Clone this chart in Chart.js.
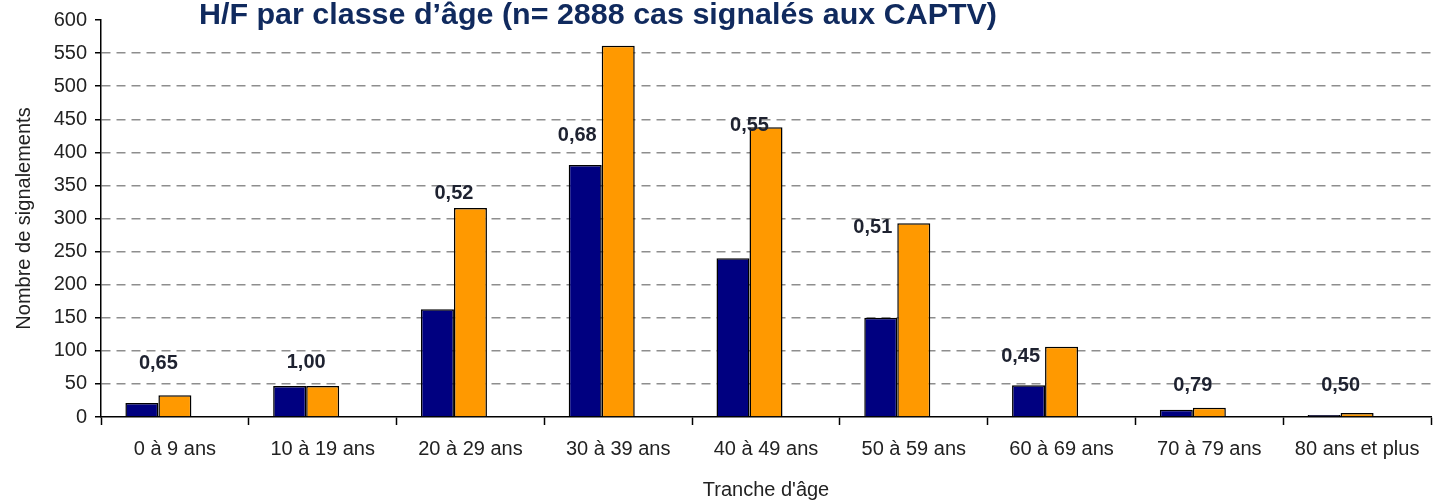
<!DOCTYPE html>
<html lang="fr">
<head>
  <meta charset="UTF-8">
  <title>H/F par classe d'âge</title>
  <script src="https://cdn.jsdelivr.net/npm/chart.js"></script>
  <style>
    body {
      margin: 0;
      background-color: #ffffff;
    }
    .wrap {
      position: relative;
      width: 1433px;
      height: 502px;
    }
  </style>
</head>
<body>
  <div class="wrap">
    <canvas id="ageChart"></canvas>
  </div>

  <script>
    // Données
    const tranches = ['0 à 9 ans', '10 à 19 ans', '20 à 29 ans', '30 à 39 ans', '40 à 49 ans',
                      '50 à 59 ans', '60 à 69 ans', '70 à 79 ans', '80 ans et plus'];
    const hommes = [21, 47, 163, 381, 240, 150, 48, 11, 3];
    const femmes = [33, 47, 316, 561, 438, 293, 106, 14, 6];
    const ratioHF = [0.65, 1.00, 0.52, 0.68, 0.55, 0.51, 0.45, 0.79, 0.50];
    // hauteur (en nombre de signalements) où se trouve l'étiquette du ratio
    const ratioLabelAt = [81, 83, 338, 426, 440, 287, 91, 48, 48];
    const yTicks = [0, 50, 100, 150, 200, 250, 300, 350, 400, 450, 500, 550, 600];

    const titre = 'H/F par classe d\u2019âge (n= 2888 cas signalés aux CAPTV)';
    const police = '"Liberation Sans", Arial, sans-serif';

    // titre dessiné par-dessus la zone du graphique
    const titlePlugin = {
      id: 'titre',
      afterDraw(chart) {
        const ctx = chart.ctx;
        ctx.save();
        ctx.font = 'bold 29px "Liberation Sans Narrow", ' + police;
        const w = ctx.measureText(titre).width;
        ctx.translate(199, 24);
        ctx.scale(798 / w, 1);
        ctx.fillStyle = '#102a5e';
        ctx.textBaseline = 'alphabetic';
        ctx.textAlign = 'left';
        ctx.fillText(titre, 0, 0);
        ctx.restore();
      }
    };

    // étiquettes du ratio H/F
    const ratioPlugin = {
      id: 'ratio',
      afterDatasetsDraw(chart) {
        const ctx = chart.ctx;
        const y = chart.scales.y;
        const barsH = chart.getDatasetMeta(0).data;
        ctx.save();
        ctx.font = 'bold 20px ' + police;
        ctx.fillStyle = '#1e2230';
        ctx.textBaseline = 'middle';
        ratioHF.forEach((r, i) => {
          const bar = barsH[i];
          const edge = bar.x + bar.width / 2;
          const txt = r.toFixed(2).replace('.', ',');
          const py = y.getPixelForValue(ratioLabelAt[i]);
          if (ratioLabelAt[i] < femmes[i]) {
            ctx.textAlign = 'right';
            ctx.fillText(txt, edge - 5, py);
          } else {
            ctx.textAlign = 'center';
            ctx.fillText(txt, edge, py);
          }
        });
        ctx.restore();
      }
    };

    const ctx = document.getElementById('ageChart').getContext('2d');
    new Chart(ctx, {
      type: 'bar',
      data: {
        labels: tranches,
        datasets: [
          {
            label: 'Hommes',
            data: hommes,
            backgroundColor: '#000080',
            borderColor: '#000000',
            borderWidth: 1.5
          },
          {
            label: 'Femmes',
            data: femmes,
            backgroundColor: '#ff9900',
            borderColor: '#000000',
            borderWidth: 1.5
          },
          {
            label: 'H/F',
            data: ratioHF,
            backgroundColor: 'rgba(0,0,0,0)',
            borderWidth: 0
          }
        ]
      },
      options: {
        responsive: true,
        maintainAspectRatio: false,
        animation: false,
        categoryPercentage: 0.67,
        barPercentage: 1.0,
        layout: {
          padding: { top: 19, right: 2, left: 0, bottom: 0 }
        },
        plugins: {
          legend: { display: false },
          tooltip: { enabled: false }
        },
        scales: {
          x: {
            afterFit: (axis) => { axis.height = 85; },
            grid: {
              offset: true,
              drawOnChartArea: false,
              drawTicks: true,
              tickLength: 8,
              tickColor: '#000000',
              tickWidth: 1.5
            },
            border: { color: '#000000', width: 1.5 },
            ticks: {
              font: { family: police, size: 20 },
              color: '#222222',
              padding: 12,
              maxRotation: 0,
              autoSkip: false
            },
            title: {
              display: true,
              text: "Tranche d'âge",
              font: { family: police, size: 20 },
              color: '#222222',
              padding: { top: 0, bottom: 0 }
            }
          },
          y: {
            min: 0,
            max: 600,
            afterFit: (axis) => { axis.width = 101; },
            afterBuildTicks: (axis) => { axis.ticks = yTicks.map(v => ({ value: v })); },
            grid: {
              color: (c) => (c.tick && (c.tick.value === 0 || c.tick.value === 600)) ? 'rgba(0,0,0,0)' : '#8e8e8e',
              lineWidth: 1.5,
              drawTicks: true,
              tickLength: 6,
              tickColor: '#000000',
              tickWidth: 1.5,
              tickBorderDash: []
            },
            border: { color: '#000000', width: 1.5, dash: [9, 6] },
            ticks: {
              font: { family: police, size: 20 },
              color: '#222222',
              padding: 8
            },
            title: {
              display: true,
              text: 'Nombre de signalements',
              font: { family: police, size: 20 },
              color: '#222222',
              padding: { top: 12, bottom: 0 }
            }
          }
        }
      },
      plugins: [titlePlugin, ratioPlugin]
    });
  </script>
</body>
</html>
